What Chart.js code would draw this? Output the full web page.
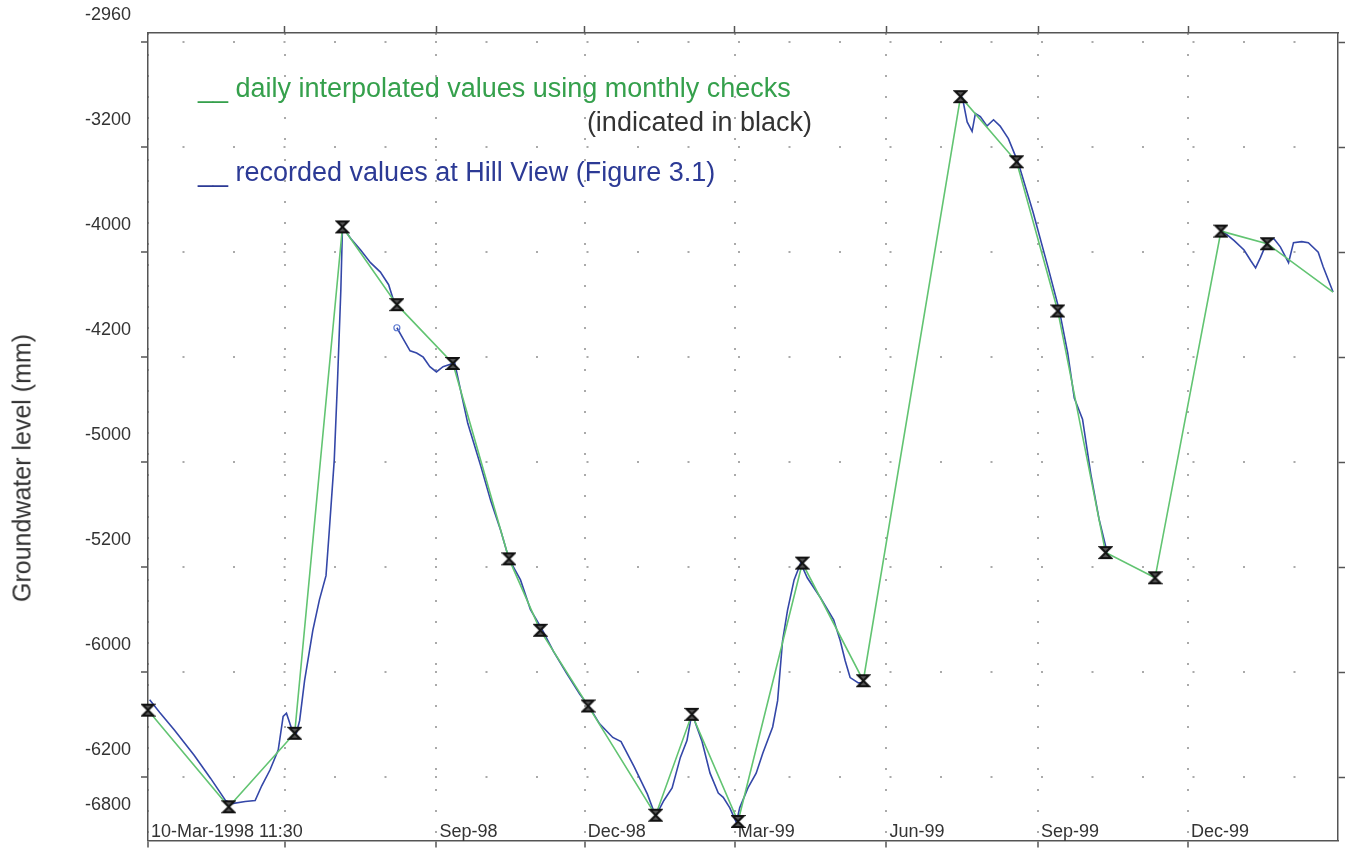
<!DOCTYPE html>
<html>
<head>
<meta charset="utf-8">
<title>Groundwater level</title>
<script src="https://cdn.jsdelivr.net/npm/chart.js@4.4.0/dist/chart.umd.min.js"></script>
<style>
  html, body { margin: 0; padding: 0; background: #fff; }
  #wrap { position: relative; width: 1348px; height: 848px; }
  .note {
    position: absolute;
    font-family: "Liberation Sans", Arial, sans-serif;
    font-size: 27px;
    line-height: 1;
    white-space: nowrap;
  }
  .ytitle {
    position: absolute;
    left: 22px;
    top: 468px;
    transform: translate(-50%, -50%) rotate(-90deg);
    font-family: "Liberation Sans", Arial, sans-serif;
    font-size: 25px;
    color: #333;
    white-space: nowrap;
  }
</style>
</head>
<body>
<div id="wrap">
  <canvas id="levelChart"></canvas>
  <div class="note" style="left:198px; top:75px; color:#35a04c;">__ daily interpolated values using monthly checks</div>
  <div class="note" style="right:536px; top:109px; color:#333;">(indicated in black)</div>
  <div class="note" style="left:198px; top:159px; color:#2c3a95;">__ recorded values at Hill View (Figure 3.1)</div>
  <div class="ytitle">Groundwater level (mm)</div>
</div>
<script>
// days counted from 10-Mar-1998 11:30
const checkDays = [0, 49, 89, 118, 151, 185, 219, 238, 267, 308, 330, 358, 397, 434, 493, 527, 552, 581, 611, 651, 679, 719];
const checkLevels = [-6180, -6640, -6290, -3880, -4250, -4530, -5460, -5800, -6160, -6680, -6200, -6710, -5480, -6040, -3260, -3570, -4280, -5430, -5550, -3900, -3960, -4190];

const recordedDays = [
  1, 7, 16, 28, 38, 47, 51, 59, 65, 69, 74, 79, 82, 84, 87, 90, 92, 95, 100, 104, 108, 110, 113, 115, 117, 118,
  123, 129, 135, 141, 146, 149, 150,
  151, 155, 159, 163, 167, 171, 175, 179, 183, 186, 194, 202, 208, 214, 219, 226, 232, 239, 246, 254, 262, 267,
  274, 282, 287, 295, 303, 308, 313, 318, 323, 327, 330, 336, 341, 346, 349, 353, 357, 359, 364, 369, 373, 379,
  382, 385, 388, 392, 396, 400, 408, 416, 420, 423, 426, 431, 435, 460,
  494, 497, 500, 502, 505, 509, 513, 517, 522, 528, 537, 546, 553, 558, 562, 567, 572, 577, 582, 620,
  652, 659, 665, 669, 672, 675, 679, 683, 687, 692, 695, 700, 704, 710, 713, 719
];
const recordedLevels = [
  -6130, -6190, -6275, -6395, -6505, -6610, -6625, -6615, -6610, -6540, -6465, -6370, -6210, -6195, -6265, -6290,
  -6230, -6040, -5800, -5655, -5540, -5325, -4990, -4610, -4180, -3880,
  -3935, -3990, -4050, -4095, -4155, -4230, null,
  -4360, -4415, -4470, -4480, -4500, -4545, -4570, -4545, -4535, -4525, -4815, -5020, -5185, -5325, -5460, -5560,
  -5700, -5795, -5900, -6005, -6105, -6155,
  -6245, -6310, -6330, -6450, -6580, -6685, -6610, -6550, -6405, -6325, -6195, -6325, -6480, -6575, -6595, -6645,
  -6715, -6645, -6550, -6480, -6385, -6260,
  -6135, -5850, -5705, -5560, -5480, -5550, -5645, -5750, -5850, -5945, -6025, -6050, -6050, null,
  -3260, -3380, -3425, -3340, -3355, -3400, -3370, -3400, -3460, -3575, -3810, -4070, -4280, -4480, -4695, -4795,
  -5055, -5270, -5430, null,
  -3900, -3945, -3990, -4040, -4075, -4025, -3950, -3935, -3975, -4050, -3955, -3950, -3955, -4000, -4070, -4190
];

const xTickDays = [0, 83, 175, 265, 356, 448, 540, 631];
const xTickLabels = ['10-Mar-1998 11:30', '', 'Sep-98', 'Dec-98', 'Mar-99', 'Jun-99', 'Sep-99', 'Dec-99'];
const yTickValues = [-6760, -6500, -6000, -5500, -5000, -4500, -4000, -3500, -3000];
const yTickLabels = ['-6800', '-6200', '-6000', '-5200', '-5000', '-4200', '-4000', '-3200', '-2960'];

const FONT = '"Liberation Sans", Arial, sans-serif';
const AXIS = '#555';
const DOTS = '#aaa';

function hourglass() {
  const c = document.createElement('canvas');
  c.width = 15;
  c.height = 15;
  const g = c.getContext('2d');
  g.beginPath();
  g.moveTo(2, 2);
  g.lineTo(13, 2);
  g.lineTo(2, 13);
  g.lineTo(13, 13);
  g.closePath();
  g.fillStyle = '#555';
  g.fill();
  g.strokeStyle = '#111';
  g.lineWidth = 2;
  g.stroke();
  return c;
}

// make the scale box exactly the given size, with no extra label padding
function fixSize(size) {
  return s => {
    if (s.isHorizontal()) s.height = size; else s.width = size;
    s.paddingTop = 0;
    s.paddingBottom = 0;
    s.paddingLeft = 0;
    s.paddingRight = 0;
  };
}

const checkPoints = checkDays.map((d, i) => ({ x: d, y: checkLevels[i] }));
const recordedPoints = recordedDays.map((d, i) => ({ x: d, y: recordedLevels[i] }));
const restartIndex = recordedLevels.indexOf(null) + 1;
const marker = hourglass();

new Chart(document.getElementById('levelChart'), {
  type: 'line',
  data: {
    datasets: [{
      label: 'daily interpolated values using monthly checks',
      data: checkPoints,
      borderColor: '#62c472',
      borderWidth: 1.6,
      tension: 0,
      pointStyle: marker,
      pointRadius: ctx => ctx.dataIndex === checkPoints.length - 1 ? 0 : 6,
      clip: false
    }, {
      label: 'recorded values at Hill View (Figure 3.1)',
      data: recordedPoints,
      borderColor: '#3447a8',
      borderWidth: 1.6,
      tension: 0,
      spanGaps: false,
      pointRadius: ctx => ctx.dataIndex === restartIndex ? 3 : 0,
      pointBorderColor: '#5a78d0',
      pointBackgroundColor: 'rgba(0,0,0,0)',
      pointBorderWidth: 1.2
    }]
  },
  options: {
    responsive: true,
    maintainAspectRatio: false,
    animation: false,
    layout: { padding: 0 },
    plugins: {
      legend: { display: false },
      tooltip: { enabled: false }
    },
    scales: {
      x: {
        type: 'linear',
        position: 'bottom',
        min: 0,
        max: 722,
        afterBuildTicks: s => { s.ticks = xTickDays.map(v => ({ value: v })); },
        afterFit: fixSize(7),
        border: { color: AXIS, width: 1.5, dash: [2, 19] },
        grid: {
          color: DOTS,
          lineWidth: 2,
          tickLength: 7,
          tickColor: AXIS,
          tickWidth: 1.5,
          tickBorderDash: []
        },
        ticks: {
          autoSkip: false,
          maxRotation: 0,
          minRotation: 0,
          align: 'start',
          mirror: true,
          padding: -2,
          labelOffset: 3,
          color: '#333',
          font: { family: FONT, size: 18 },
          callback: (v, i) => xTickLabels[i]
        }
      },
      x2: {
        type: 'linear',
        position: 'top',
        min: 0,
        max: 722,
        afterBuildTicks: s => { s.ticks = xTickDays.slice(1).map(v => ({ value: v })); },
        afterFit: fixSize(33),
        border: { color: AXIS, width: 1.5 },
        grid: { drawOnChartArea: false, tickLength: 7, tickColor: AXIS, tickWidth: 1.5 },
        ticks: { display: false }
      },
      y: {
        type: 'linear',
        position: 'left',
        min: -6800,
        max: -2957,
        afterBuildTicks: s => { s.ticks = yTickValues.map(v => ({ value: v })); },
        afterFit: fixSize(148),
        border: { color: AXIS, width: 1.5, dash: [2, 48.5], dashOffset: 16.5 },
        grid: {
          color: ctx => ctx.index === 0 ? 'rgba(0,0,0,0)' : DOTS,
          lineWidth: 2,
          tickLength: 7,
          tickColor: ctx => ctx.index === 0 ? 'rgba(0,0,0,0)' : AXIS,
          tickWidth: 1.5,
          tickBorderDash: []
        },
        ticks: {
          autoSkip: false,
          padding: 10,
          labelOffset: -27,
          color: '#333',
          font: { family: FONT, size: 18 },
          callback: (v, i) => yTickLabels[i]
        }
      },
      y2: {
        type: 'linear',
        position: 'right',
        min: -6800,
        max: -2957,
        afterBuildTicks: s => { s.ticks = yTickValues.slice(1).map(v => ({ value: v })); },
        afterFit: fixSize(10),
        border: { color: AXIS, width: 1.5 },
        grid: { drawOnChartArea: false, tickLength: 7, tickColor: AXIS, tickWidth: 1.5 },
        ticks: { display: false }
      }
    }
  }
});
</script>
</body>
</html>
